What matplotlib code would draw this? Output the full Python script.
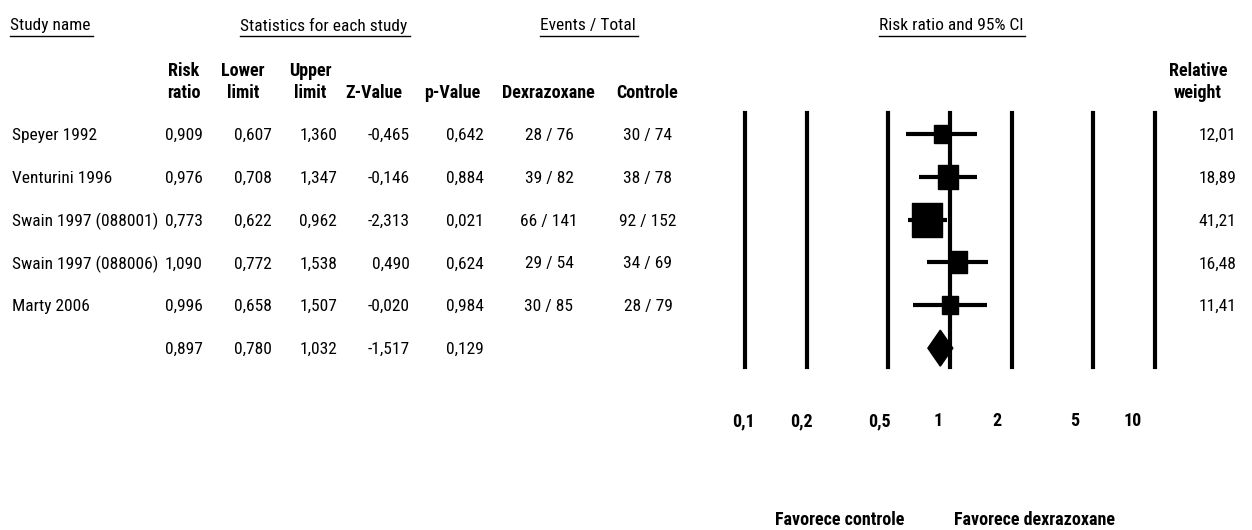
import matplotlib
matplotlib.use('Agg')
import matplotlib.pyplot as plt
from matplotlib.lines import Line2D
from matplotlib.patches import Polygon
from matplotlib.transforms import blended_transform_factory, IdentityTransform
import numpy as np

# study level results (risk ratio, 95% CI, tests, events and weights)
STUDIES = ['Speyer 1992', 'Venturini 1996', 'Swain 1997 (088001)',
           'Swain 1997 (088006)', 'Marty 2006']
RISK_RATIO = [0.909, 0.976, 0.773, 1.090, 0.996]
LOWER = [0.607, 0.708, 0.622, 0.772, 0.658]
UPPER = [1.360, 1.347, 0.962, 1.538, 1.507]
Z_VALUE = [-0.465, -0.146, -2.313, 0.490, -0.020]
P_VALUE = [0.642, 0.884, 0.021, 0.624, 0.984]
DEX_EVENTS = [28, 39, 66, 29, 30]
DEX_TOTAL = [76, 82, 141, 54, 85]
CTRL_EVENTS = [30, 38, 92, 34, 28]
CTRL_TOTAL = [74, 78, 152, 69, 79]
WEIGHT = [12.01, 18.89, 41.21, 16.48, 11.41]

# pooled (fixed effect) result
POOLED_RR = 0.897
POOLED_LOWER = 0.780
POOLED_UPPER = 1.032
POOLED_Z = -1.517
POOLED_P = 0.129

AXIS_TICKS = [0.1, 0.2, 0.5, 1, 2, 5, 10]

W, H = 1252, 530
FS = 12.5      # plain text
FSB = 13       # bold headings
plt.rcParams['font.family'] = ['Roboto Condensed', 'DejaVu Sans']


def comma(v, nd):
    # portuguese style decimals
    return f'{v:.{nd}f}'.replace('.', ',')


def fx(px):
    return px / W


def fy(py):
    return 1 - py / H


fig = plt.figure(figsize=(W / 100, H / 100), dpi=100)
fig.patch.set_facecolor('white')

# forest plot area, rows 0..5 from top to bottom
ax = fig.add_axes([fx(745), fy(367), fx(1155) - fx(745), fy(113) - fy(367)])
ax.set_xscale('log')
ax.set_xlim(0.1, 10)
ax.set_ylim(5.44, -0.49)
ax.axis('off')

for t in AXIS_TICKS:
    ax.axvline(t, color='black', lw=3, clip_on=False, zorder=1)

box = [(-0.43, -0.5), (0.43, -0.5), (0.43, 0.5), (-0.43, 0.5), (-0.43, -0.5)]
for i in range(len(STUDIES)):
    ax.plot([LOWER[i], UPPER[i]], [i, i], color='black', lw=3,
            solid_capstyle='butt', zorder=2)
    ax.plot(RISK_RATIO[i], i, marker=box, color='black',
            ms=3.82 * np.sqrt(WEIGHT[i]), zorder=3)

row_pool = len(STUDIES)
diamond = Polygon([(POOLED_LOWER, row_pool), (POOLED_RR, row_pool - 0.42),
                   (POOLED_UPPER, row_pool), (POOLED_RR, row_pool + 0.42)],
                  closed=True, facecolor='black', edgecolor='black', zorder=3)
ax.add_patch(diamond)

# axis numbers drawn on their own log scale just below the plot
ax_lab = fig.add_axes([fx(743), fy(421), fx(1133) - fx(743), 0.001])
ax_lab.set_xscale('log')
ax_lab.set_xlim(0.1, 10)
ax_lab.axis('off')
for t in AXIS_TICKS:
    lab = comma(t, 1) if t < 1 else str(int(t))
    ax_lab.text(t, 0, lab, transform=ax_lab.get_xaxis_transform(),
                ha='center', va='center', fontsize=FSB, fontweight='bold')

fig.text(fx(840), fy(529), 'Favorece controle', ha='center', va='bottom',
         fontsize=FSB, fontweight='bold')
fig.text(fx(1035), fy(529), 'Favorece dexrazoxane', ha='center', va='bottom',
         fontsize=FSB, fontweight='bold')

# table text, rows share the forest plot y scale
rows = blended_transform_factory(fig.transFigure, ax.transData)

def cell(x, row, s, ha):
    fig.text(fx(x), row, s, transform=rows, ha=ha, va='center_baseline', fontsize=FS)

for i, name in enumerate(STUDIES):
    cell(12, i, name, 'left')
    cell(203, i, comma(RISK_RATIO[i], 3), 'right')
    cell(272, i, comma(LOWER[i], 3), 'right')
    cell(337, i, comma(UPPER[i], 3), 'right')
    cell(410, i, comma(Z_VALUE[i], 3), 'right')
    cell(484, i, comma(P_VALUE[i], 3), 'right')
    cell(549, i, f'{DEX_EVENTS[i]} / {DEX_TOTAL[i]}', 'center')
    cell(648, i, f'{CTRL_EVENTS[i]} / {CTRL_TOTAL[i]}', 'center')
    cell(1236, i, comma(WEIGHT[i], 2), 'right')

cell(203, row_pool, comma(POOLED_RR, 3), 'right')
cell(272, row_pool, comma(POOLED_LOWER, 3), 'right')
cell(337, row_pool, comma(POOLED_UPPER, 3), 'right')
cell(410, row_pool, comma(POOLED_Z, 3), 'right')
cell(484, row_pool, comma(POOLED_P, 3), 'right')

# column headings
col_heads = [(184, 'Risk', 'ratio'), (243, 'Lower', 'limit'),
             (310, 'Upper', 'limit'), (374, '', 'Z-Value'),
             (452, '', 'p-Value'), (548, '', 'Dexrazoxane'),
             (647, '', 'Controle'), (1198, 'Relative', 'weight')]
for x, top, bottom in col_heads:
    if top:
        fig.text(fx(x), fy(69), top, ha='center', va='center_baseline',
                 fontsize=FSB, fontweight='bold')
    fig.text(fx(x), fy(91), bottom, ha='center', va='center_baseline',
             fontsize=FSB, fontweight='bold')

groups = [fig.text(fx(10), fy(24), 'Study name', ha='left', va='center_baseline', fontsize=FS),
          fig.text(fx(324), fy(24), 'Statistics for each study', ha='center',
                   va='center_baseline', fontsize=FS),
          fig.text(fx(588), fy(24), 'Events / Total', ha='center',
                   va='center_baseline', fontsize=FS),
          fig.text(fx(951), fy(24), 'Risk ratio and 95% CI', ha='center',
                   va='center_baseline', fontsize=FS)]

# underline the group headings using their rendered extents
fig.canvas.draw()
for g in groups:
    bb = g.get_window_extent()
    yline = H - 35.5
    fig.add_artist(Line2D([bb.x0, bb.x1 + 2], [yline, yline], color='black',
                          lw=1.0, transform=IdentityTransform()))

fig.savefig('out.png', dpi=100, facecolor='white')
